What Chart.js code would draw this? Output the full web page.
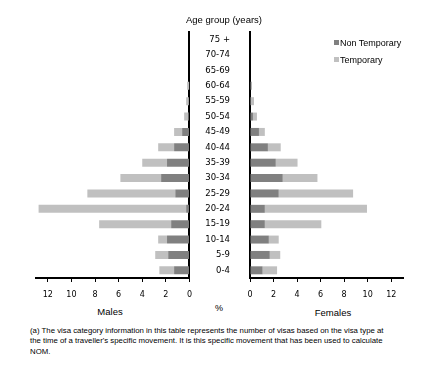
<!DOCTYPE html>
<html>
<head>
<meta charset="utf-8">
<script src="https://cdn.jsdelivr.net/npm/chart.js@4.4.0/dist/chart.umd.min.js"></script>
<style>
  body { margin: 0; background: #fff; width: 433px; height: 377px; position: relative; overflow: hidden; font-family: "Liberation Sans", Arial, sans-serif; }
  .abs { position: absolute; white-space: nowrap; color: #000; }
  #left { position: absolute; left: 0; top: 0; }
  #right { position: absolute; left: 200px; top: 0; }
  .key { display: inline-block; width: 5px; height: 5px; margin-right: 1px; vertical-align: 1px; }
  .note { position: absolute; left: 30px; top: 326px; font-size: 7.8px; line-height: 10.3px; color: #000; font-family: "Liberation Sans Narrow", "Liberation Sans", Arial, sans-serif; }
</style>
</head>
<body>
<canvas id="left" width="200" height="300"></canvas>
<canvas id="right" width="233" height="300"></canvas>

<div class="abs" style="left:224px; top:14px; transform:translateX(-50%); font-size:9.5px;">Age group (years)</div>
<div class="abs" style="left:334px; top:38px; font-size:9px;"><span class="key" style="background:#808080"></span>Non Temporary</div>
<div class="abs" style="left:334px; top:55px; font-size:9px;"><span class="key" style="background:#c0c0c0"></span>Temporary</div>
<div class="abs" style="left:110px; top:306px; transform:translateX(-50%); font-size:9.5px;">Males</div>
<div class="abs" style="left:219px; top:303px; transform:translateX(-50%); font-size:9px;">%</div>
<div class="abs" style="left:333px; top:307px; transform:translateX(-50%); font-size:9.5px;">Females</div>
<div class="note">(a) The visa category information in this table represents the number of visas based on the visa type at<br>the time of a traveller's specific movement. It is this specific movement that has been used to calculate<br>NOM.</div>

<script>
// Grupos de idade (de cima para baixo)
const ageGroups = ['75 +', '70-74', '65-69', '60-64', '55-59', '50-54', '45-49', '40-44',
                   '35-39', '30-34', '25-29', '20-24', '15-19', '10-14', '5-9', '0-4'];

// Homens (%)
const malesNonTemp = [0, 0, 0, 0.02, 0.05, 0.1, 0.62, 1.3, 1.9, 2.4, 1.2, 0.28, 1.55, 1.9, 1.8, 1.3];
const malesTemp    = [0, 0, 0, 0.18, 0.23, 0.35, 0.68, 1.35, 2.1, 3.45, 7.45, 12.5, 6.1, 0.75, 1.1, 1.25];

// Mulheres (%)
const femalesNonTemp = [0, 0, 0, 0.12, 0.05, 0.25, 0.76, 1.52, 2.19, 2.78, 2.44, 1.26, 1.26, 1.6, 1.68, 1.07];
const femalesTemp    = [0, 0, 0, 0.05, 0.29, 0.34, 0.5, 1.09, 1.85, 2.95, 6.32, 8.68, 4.8, 0.84, 0.89, 1.23];

const xMax = 13;
const darkGrey = '#808080';
const lightGrey = '#c0c0c0';

const tickFont = { family: 'DejaVu Sans', size: 8 };

function makeDatasets(nonTemp, temp) {
    return [
        { label: 'Non Temporary', data: nonTemp, backgroundColor: darkGrey, barPercentage: 0.52, categoryPercentage: 1 },
        { label: 'Temporary', data: temp, backgroundColor: lightGrey, barPercentage: 0.52, categoryPercentage: 1 }
    ];
}

function xScale(reverse) {
    return {
        stacked: true,
        reverse: reverse,
        min: 0,
        max: xMax,
        grid: { drawOnChartArea: false, drawTicks: true, tickLength: 4, color: '#000', lineWidth: 1 },
        border: { color: '#000', width: 2 },
        ticks: { stepSize: 2, includeBounds: false, color: '#000', font: tickFont, padding: 8, maxRotation: 0 },
        afterFit: (s) => { s.height = 22; }
    };
}

// Gráfico dos homens (esquerda, eixo invertido)
new Chart(document.getElementById('left'), {
    type: 'bar',
    data: { labels: ageGroups, datasets: makeDatasets(malesNonTemp, malesTemp) },
    options: {
        indexAxis: 'y',
        responsive: false,
        animation: false,
        layout: { padding: { left: 36, top: 32, right: 0, bottom: 0 } },
        plugins: { legend: { display: false }, tooltip: { enabled: false } },
        scales: {
            x: xScale(true),
            y: {
                stacked: true,
                position: 'right',
                grid: { display: false },
                border: { color: '#000', width: 2 },
                ticks: { display: false },
                afterFit: (s) => { s.width = 10; }
            }
        }
    }
});

// Gráfico das mulheres (direita), com os rótulos de idade
new Chart(document.getElementById('right'), {
    type: 'bar',
    data: { labels: ageGroups, datasets: makeDatasets(femalesNonTemp, femalesTemp) },
    options: {
        indexAxis: 'y',
        responsive: false,
        animation: false,
        layout: { padding: { left: 0, top: 32, right: 30, bottom: 0 } },
        plugins: { legend: { display: false }, tooltip: { enabled: false } },
        scales: {
            x: xScale(false),
            y: {
                stacked: true,
                position: 'left',
                grid: { display: false },
                border: { color: '#000', width: 2 },
                ticks: { color: '#000', font: { family: 'DejaVu Sans', size: 8.5 }, padding: 12, autoSkip: false },
                afterFit: (s) => { s.width = 50; }
            }
        }
    }
});
</script>
</body>
</html>
